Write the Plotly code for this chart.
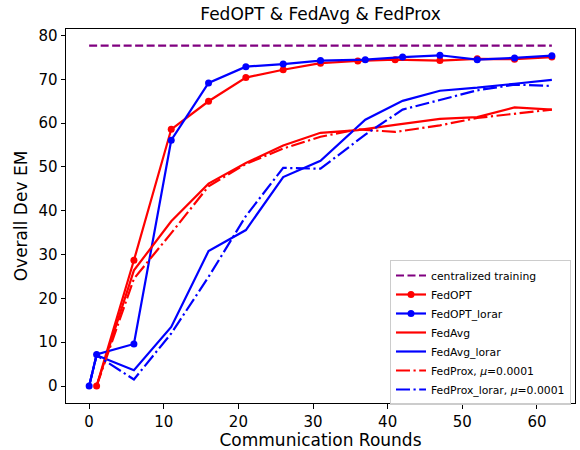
import plotly.graph_objects as go

# ---- data ----
central_x = [0, 62]
central_y = [77.7, 77.7]

red_x = [1, 6, 11, 16, 21, 26, 31, 36, 41, 47, 52, 57, 62]
blue_x = [0, 1, 6, 11, 16, 21, 26, 31, 37, 42, 47, 52, 57, 62]

fedopt_y = [0, 28.7, 58.6, 65.0, 70.4, 72.2, 73.7, 74.2, 74.5, 74.3, 74.7, 74.6, 75.1]
fedopt_lorar_y = [0, 7.2, 9.6, 56.1, 69.2, 72.9, 73.5, 74.3, 74.5, 75.1, 75.5, 74.5, 74.9, 75.4]
fedavg_y = [0, 26.4, 37.6, 46.2, 50.9, 54.9, 57.8, 58.4, 59.6, 61.0, 61.4, 63.6, 63.1]
fedavg_lorar_y = [0, 7.0, 3.6, 13.5, 30.8, 35.6, 47.7, 51.4, 60.8, 65.1, 67.4, 68.1, 69.0, 69.9]
fedprox_y = [0, 24.5, 34.9, 45.6, 50.7, 54.2, 56.9, 58.6, 58.0, 59.5, 61.2, 62.1, 63.1]
fedprox_lorar_y = [0, 7.0, 1.5, 12.0, 24.9, 38.8, 49.8, 49.6, 57.4, 63.1, 65.3, 67.5, 68.8, 68.5]

RED = "#ff0000"
BLUE = "#0000ff"
PURPLE = "#800080"
LW = 2.2
DASH = "8px,3.5px"
DASHDOT = "14px,3.5px,2.2px,3.5px"

fig = go.Figure()
fig.add_trace(go.Scatter(x=central_x, y=central_y, mode="lines", name="centralized training",
                         line=dict(color=PURPLE, width=LW, dash=DASH)))
fig.add_trace(go.Scatter(x=red_x, y=fedopt_y, mode="lines+markers", name="FedOPT",
                         line=dict(color=RED, width=LW), marker=dict(size=7, color=RED)))
fig.add_trace(go.Scatter(x=blue_x, y=fedopt_lorar_y, mode="lines+markers", name="FedOPT_lorar",
                         line=dict(color=BLUE, width=LW), marker=dict(size=7, color=BLUE)))
fig.add_trace(go.Scatter(x=red_x, y=fedavg_y, mode="lines", name="FedAvg",
                         line=dict(color=RED, width=LW)))
fig.add_trace(go.Scatter(x=blue_x, y=fedavg_lorar_y, mode="lines", name="FedAvg_lorar",
                         line=dict(color=BLUE, width=LW)))
fig.add_trace(go.Scatter(x=red_x, y=fedprox_y, mode="lines", name="FedProx, <i>μ</i>=0.0001",
                         line=dict(color=RED, width=LW, dash=DASHDOT)))
fig.add_trace(go.Scatter(x=blue_x, y=fedprox_lorar_y, mode="lines", name="FedProx_lorar, <i>μ</i>=0.0001",
                         line=dict(color=BLUE, width=LW, dash=DASHDOT)))

axis_common = dict(showline=True, linecolor="black", linewidth=1, mirror=True,
                   ticks="outside", ticklen=4.5, tickwidth=1, tickcolor="black",
                   showgrid=False, zeroline=False, automargin=False,
                   tickfont=dict(size=15, color="black"))

fig.update_layout(
    width=580, height=450,
    margin=dict(l=66, r=5, t=29, b=47, autoexpand=False),
    paper_bgcolor="white", plot_bgcolor="white",
    font=dict(family="DejaVu Sans", color="black"),
    title=dict(text="FedOPT & FedAvg & FedProx", x=320.5 / 580, xanchor="center",
               y=1 - 14 / 450, yanchor="middle", yref="container",
               font=dict(size=17, color="black")),
    xaxis=dict(range=[-3.1, 65.1], tickvals=[0, 10, 20, 30, 40, 50, 60],
               title=dict(text="Communication Rounds", font=dict(size=17), standoff=10),
               **axis_common),
    yaxis=dict(range=[-3.88, 81.5], tickvals=[0, 10, 20, 30, 40, 50, 60, 70, 80],
               title=dict(text="Overall Dev EM", font=dict(size=17), standoff=6),
               **axis_common),
    legend=dict(x=(390 - 66) / 509, y=(403 - 260) / 374, xanchor="left", yanchor="top",
                bgcolor="rgba(255,255,255,0.8)", bordercolor="#cccccc", borderwidth=1,
                font=dict(size=10.8, color="black"), itemwidth=30, tracegroupgap=0),
    showlegend=True,
)

fig.write_html("out.html", config={"displayModeBar": False},
               post_script="document.body.style.margin='0';")
